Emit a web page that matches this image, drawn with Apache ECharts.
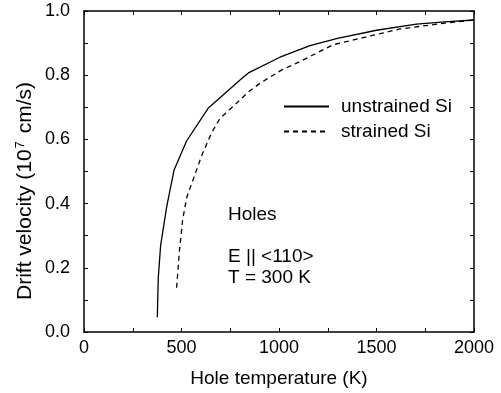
<!DOCTYPE html>
<html>
<head>
<meta charset="utf-8">
<script src="https://cdn.jsdelivr.net/npm/echarts@6/dist/echarts.min.js"></script>
<style>
  html, body { margin: 0; padding: 0; background: #fff; }
  #chart-container { width: 501px; height: 393px; }
</style>
</head>
<body>
<div id="chart-container"></div>
<script>
var seriesNames = ["unstrained Si", "strained Si"];
// hole temperature (K) and drift velocity (1e7 cm/s)
var unstrainedT = [376, 381, 393, 424, 462, 526, 638, 800, 843, 1005, 1159, 1300, 1500, 1705, 1850, 2000];
var unstrainedV = [0.046, 0.169, 0.27, 0.39, 0.505, 0.595, 0.698, 0.785, 0.807, 0.856, 0.892, 0.915, 0.94, 0.959, 0.966, 0.972];
var strainedT = [475, 489, 506, 527, 564, 603, 654, 697, 774, 843, 903, 1010, 1099, 1278, 1620, 1850, 2000];
var strainedV = [0.138, 0.25, 0.35, 0.42, 0.482, 0.549, 0.62, 0.665, 0.708, 0.748, 0.775, 0.815, 0.84, 0.895, 0.944, 0.962, 0.972];
var notes = ["Holes", "E || <110>", "T = 300 K"];
var yTitle = "Drift velocity (10{sup|7} cm/s)";

function pairs(xs, ys) {
  return xs.map(function (x, i) { return [x, ys[i]]; });
}

var dom = document.getElementById("chart-container");
var myChart = echarts.init(dom, null, { renderer: "canvas" });
var font = "Liberation Sans";
var option;

var xAxisBase = {
  type: "value",
  min: 0,
  max: 2000,
  interval: 250,
  splitLine: { show: false },
  axisLine: { show: true, onZero: false, lineStyle: { color: "#000", width: 1.5 } },
  axisTick: { show: true, inside: true, length: 4, lineStyle: { color: "#000", width: 1 } }
};
var yAxisBase = {
  type: "value",
  min: 0,
  max: 1,
  interval: 0.1,
  splitLine: { show: false },
  axisLine: { show: true, onZero: false, lineStyle: { color: "#000", width: 1.5 } },
  axisTick: { show: true, inside: true, length: 4, lineStyle: { color: "#000", width: 1 } }
};

option = {
  animation: false,
  backgroundColor: "#fff",
  textStyle: { fontFamily: font },
  grid: { left: 84, right: 27, top: 11, bottom: 58 },
  legend: {
    orient: "vertical",
    left: 278,
    top: 92,
    itemWidth: 45,
    itemHeight: 14,
    itemGap: 6,
    data: seriesNames,
    itemStyle: { opacity: 0, borderWidth: 0 },
    textStyle: { fontFamily: font, fontSize: 19, lineHeight: 19, color: "#000", padding: [0, 0, 0, 7] }
  },
  xAxis: [
    Object.assign({}, xAxisBase, {
      position: "bottom",
      name: "Hole temperature (K)",
      nameLocation: "middle",
      nameGap: 37,
      nameTextStyle: { fontFamily: font, fontSize: 19, color: "#000" },
      axisLabel: {
        color: "#000",
        fontFamily: font,
        fontSize: 18,
        margin: 7,
        formatter: function (v) { return v % 500 === 0 ? String(v) : ""; }
      }
    }),
    Object.assign({}, xAxisBase, { position: "top", axisLabel: { show: false } })
  ],
  yAxis: [
    Object.assign({}, yAxisBase, {
      position: "left",
      axisLabel: {
        color: "#000",
        fontFamily: font,
        fontSize: 18,
        margin: 14,
        formatter: function (v) {
          return Math.round(v * 10) % 2 === 0 ? v.toFixed(1) : "";
        }
      }
    }),
    Object.assign({}, yAxisBase, { position: "right", axisLabel: { show: false } })
  ],
  graphic: [
    {
      type: "text",
      x: 25,
      y: 191,
      rotation: Math.PI / 2,
      style: {
        text: yTitle,
        font: "21px " + font,
        fill: "#000",
        align: "center",
        verticalAlign: "middle",
        rich: { sup: { fontFamily: font, fontSize: 13, fill: "#000", padding: [0, 2, 10, 1] } }
      }
    },
    { type: "text", left: 228, top: 205, style: { text: notes[0], font: "19px " + font, fill: "#000" } },
    { type: "text", left: 228, top: 247, style: { text: notes[1], font: "19px " + font, fill: "#000" } },
    { type: "text", left: 228, top: 268, style: { text: notes[2], font: "19px " + font, fill: "#000" } }
  ],
  series: [
    {
      name: seriesNames[0],
      type: "line",
      symbol: "none",
      data: pairs(unstrainedT, unstrainedV),
      lineStyle: { color: "#000", width: 1.3, type: "solid" },
      itemStyle: { color: "#000" }
    },
    {
      name: seriesNames[1],
      type: "line",
      symbol: "none",
      data: pairs(strainedT, strainedV),
      lineStyle: { color: "#000", width: 1.3, type: [5, 4] },
      itemStyle: { color: "#000" }
    }
  ]
};

myChart.setOption(option);
window.addEventListener("resize", myChart.resize);
</script>
</body>
</html>
